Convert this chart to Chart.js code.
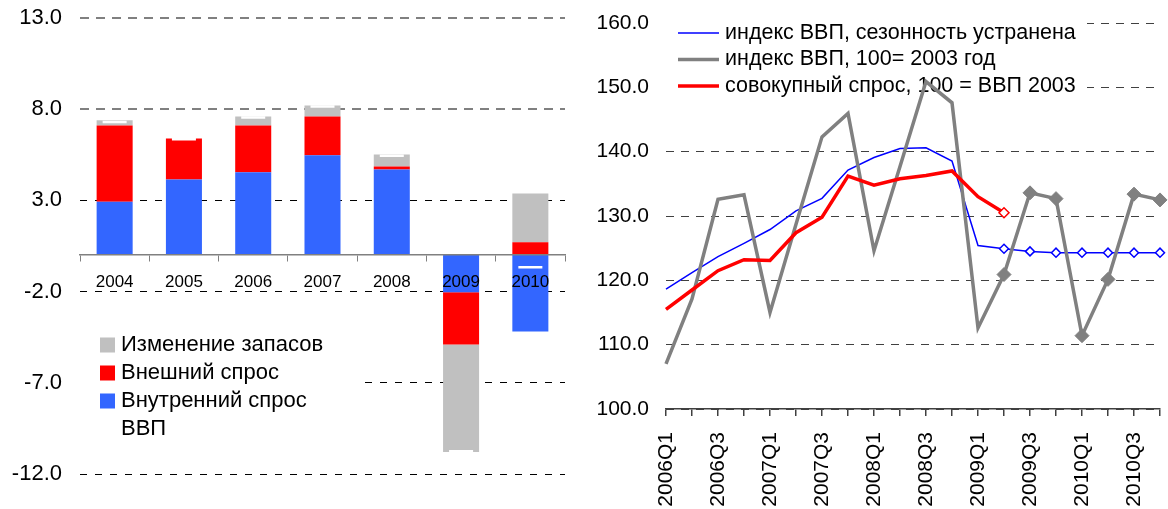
<!DOCTYPE html>
<html>
<head>
<meta charset="utf-8">
<script src="https://cdn.jsdelivr.net/npm/chart.js@4"></script>
<style>
  html, body { margin: 0; padding: 0; background: #fff; }
  #wrap { position: relative; width: 1168px; height: 509px; overflow: hidden; }
  .box { position: absolute; top: 0; height: 509px; }
  #leftBox { left: 0; width: 580px; }
  #rightBox { left: 580px; width: 588px; }
</style>
</head>
<body>
<div id="wrap">
  <div class="box" id="leftBox"><canvas id="contribChart"></canvas></div>
  <div class="box" id="rightBox"><canvas id="indexChart"></canvas></div>
</div>
<script>
// left panel: contributions to GDP growth, p.p.
const years = ['2004', '2005', '2006', '2007', '2008', '2009', '2010'];
const domesticDemand = [2.92, 4.15, 4.55, 5.47, 4.69, -2.04, -4.19];
const externalDemand = [4.18, 2.24, 2.55, 2.13, 0.17, -2.86, 0.70];
const stockChange = [0.30, 0.00, 0.50, 0.60, 0.66, -5.90, 2.68];
const gdpGrowth = [7.30, 6.35, 7.55, 8.15, 5.45, -10.75, -0.67];
const leftMin = -12, leftMax = 13, leftStep = 5;

// right panel: indices, 100 = 2003
const quarters = ['2006Q1', '2006Q2', '2006Q3', '2006Q4', '2007Q1', '2007Q2', '2007Q3', '2007Q4',
    '2008Q1', '2008Q2', '2008Q3', '2008Q4', '2009Q1', '2009Q2', '2009Q3', '2009Q4',
    '2010Q1', '2010Q2', '2010Q3', '2010Q4'];
const gdpSa = [118.65, 121.2, 123.7, 125.75, 127.9, 130.8, 132.75, 137.15, 139.1, 140.5,
    140.6, 138.55, 125.4, 124.9, 124.5, 124.3, 124.3, 124.3, 124.3, 124.3];
const gdpRaw = [107.0, 117.1, 132.6, 133.3, 115.0, 128.7, 142.3, 145.95, 124.6, 137.7,
    150.9, 147.6, 112.6, 120.9, 133.6, 132.7, 111.4, 120.15, 133.4, 132.5];
const totalDemand = [115.5, 118.5, 121.5, 123.2, 123.1, 127.4, 129.8, 136.2, 134.8, 135.8,
    136.3, 137.0, 133.0, 130.5, null, null, null, null, null, null];
const rightMin = 100, rightMax = 160, rightStep = 10;
const forecastFrom = 13; // 2009Q2 onward is drawn with markers

Chart.defaults.font.family = "'Liberation Sans', Arial, sans-serif";
Chart.defaults.color = '#000';
Chart.defaults.animation = false;

// legend drawn inside the plot on a white box (covers gridlines, not the data)
function boxLegend(o) {
    return {
        id: 'boxLegend',
        beforeDatasetsDraw(chart) {
            const ctx = chart.ctx;
            ctx.save();
            ctx.fillStyle = '#fff';
            ctx.fillRect(o.x, o.y, o.w, o.h);
            ctx.font = o.font;
            ctx.textBaseline = 'middle';
            o.items.forEach((idx, i) => {
                const ds = chart.data.datasets[idx];
                const y = o.top + i * o.step;
                if (o.kind === 'box' && ds.type !== 'line') {
                    ctx.fillStyle = ds.backgroundColor;
                    ctx.fillRect(o.swX, y - o.sw / 2, o.sw, o.sw);
                } else {
                    ctx.strokeStyle = ds.borderColor;
                    ctx.lineWidth = ds.borderWidth;
                    ctx.beginPath();
                    ctx.moveTo(o.swX, y);
                    ctx.lineTo(o.swX + o.sw, y);
                    ctx.stroke();
                }
                ctx.fillStyle = '#000';
                ctx.fillText(ds.label, o.textX, y);
            });
            ctx.restore();
        }
    };
}

// y axis: fixed width, no extra label padding above/below the plot
function fixY(width) {
    return s => { s.width = width; s.paddingTop = 0; s.paddingBottom = 0; };
}

new Chart(document.getElementById('contribChart'), {
    type: 'bar',
    data: {
        labels: years,
        datasets: [
            {label: 'Внутренний спрос', data: domesticDemand, backgroundColor: '#3366FF', order: 1},
            {label: 'Внешний спрос', data: externalDemand, backgroundColor: '#FF0000', order: 1},
            {label: 'Изменение запасов', data: stockChange, backgroundColor: '#C0C0C0', order: 1},
            {type: 'line', label: 'ВВП', data: gdpGrowth, stack: 'gdp', order: 0, showLine: false,
             borderColor: '#FFFFFF', borderWidth: 2.5, pointStyle: 'line', pointRadius: 12,
             pointBorderColor: '#FFFFFF', pointBorderWidth: 2.5}
        ]
    },
    options: {
        responsive: true,
        maintainAspectRatio: false,
        layout: {padding: {top: 18, right: 15, bottom: 35, left: 0}},
        datasets: {bar: {categoryPercentage: 1, barPercentage: 0.52}},
        plugins: {legend: {display: false}, tooltip: {enabled: false}},
        scales: {
            x: {
                stacked: true,
                position: {y: 0},
                grid: {drawOnChartArea: false, drawTicks: true, tickLength: 6, color: '#808080', offset: true, z: 1},
                border: {display: true, color: '#808080', width: 1.5, z: 1},
                ticks: {font: {size: 17}, padding: 11, maxRotation: 0, z: 1}
            },
            y: {
                stacked: true,
                min: leftMin, max: leftMax,
                afterFit: fixY(80),
                ticks: {stepSize: leftStep, font: {size: 22}, padding: 18, callback: v => v.toFixed(1)},
                grid: {
                    drawTicks: false,
                    color: c => (c.tick && c.tick.value >= 8) ? '#808080' : '#000000',
                    lineWidth: c => (c.tick && c.tick.value >= 8) ? 2 : 1
                },
                border: {display: false, dash: c => (c.tick && c.tick.value >= 8) ? [9, 7] : [7, 8]}
            }
        }
    },
    plugins: [boxLegend({kind: 'box', x: 80, y: 322, w: 282, h: 122, items: [2, 1, 0, 3],
        top: 345, step: 28, swX: 100, sw: 15, textX: 121, font: "22px 'Liberation Sans', Arial, sans-serif"})]
});

new Chart(document.getElementById('indexChart'), {
    type: 'line',
    data: {
        labels: quarters,
        datasets: [
            {label: 'индекс ВВП, сезонность устранена', data: gdpSa, borderColor: '#0000FF', borderWidth: 1.5,
             order: 2, pointStyle: 'rectRot', pointRadius: c => c.dataIndex >= forecastFrom ? 4.5 : 0,
             pointBackgroundColor: '#FFFFFF', pointBorderColor: '#0000FF', pointBorderWidth: 1.5},
            {label: 'индекс ВВП, 100= 2003 год', data: gdpRaw, borderColor: '#808080', borderWidth: 3.5,
             order: 1, pointStyle: 'rectRot', pointRadius: c => c.dataIndex >= forecastFrom ? 7 : 0,
             pointBackgroundColor: '#808080', pointBorderColor: '#808080', pointBorderWidth: 1},
            {label: 'совокупный спрос, 100 = ВВП 2003', data: totalDemand, borderColor: '#FF0000', borderWidth: 3.5,
             order: 0, pointStyle: 'rectRot', pointRadius: c => c.dataIndex >= forecastFrom ? 5 : 0,
             pointBackgroundColor: '#FFFFFF', pointBorderColor: '#FF0000', pointBorderWidth: 1.5}
        ]
    },
    options: {
        responsive: true,
        maintainAspectRatio: false,
        layout: {padding: {top: 23, right: 3, bottom: 0, left: 0}},
        plugins: {legend: {display: false}, tooltip: {enabled: false}},
        scales: {
            x: {
                afterFit: s => { s.height = 100; s.paddingLeft = 0; s.paddingRight = 0; },
                grid: {drawOnChartArea: false, drawTicks: true, tickLength: 7, color: '#404040', lineWidth: 1.5},
                border: {display: true, color: '#404040', width: 1.5},
                ticks: {
                    autoSkip: false, minRotation: 90, maxRotation: 90, font: {size: 21}, padding: 16,
                    callback: function (v, i) { return i % 2 === 0 ? this.getLabelForValue(v) : ''; }
                }
            },
            y: {
                min: rightMin, max: rightMax,
                afterFit: fixY(86),
                ticks: {stepSize: rightStep, font: {size: 21}, padding: 17, callback: v => v.toFixed(1)},
                grid: {drawTicks: false, color: '#404040', lineWidth: 1},
                border: {display: false, dash: [8, 7]}
            }
        }
    },
    plugins: [boxLegend({kind: 'line', x: 86, y: 6, w: 421, h: 96, items: [0, 1, 2],
        top: 33, step: 26.5, swX: 98, sw: 41, textX: 145, font: "21.5px 'Liberation Sans', Arial, sans-serif"})]
});
</script>
</body>
</html>
